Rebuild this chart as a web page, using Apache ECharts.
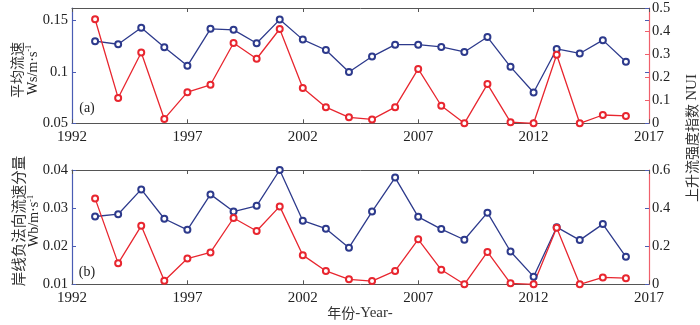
<!DOCTYPE html>
<html>
<head>
<meta charset="utf-8">
<script src="https://cdn.jsdelivr.net/npm/echarts@6/dist/echarts.min.js"></script>
<style>html,body{margin:0;padding:0;background:#fff}#c{width:700px;height:325px}</style>
</head>
<body>
<div id="c"></div>
<script>
// ---- data ----
const years = [1993,1994,1995,1996,1997,1998,1999,2000,2001,2002,2003,2004,2005,2006,2007,2008,2009,2010,2011,2012,2013,2014,2015,2016];
const meanFlow = [0.130,0.127,0.143,0.124,0.106,0.142,0.141,0.128,0.151,0.1315,0.1214,0.100,0.115,0.1266,0.1266,0.1244,0.1195,0.134,0.105,0.080,0.1224,0.118,0.131,0.110];
const normalFlow = [0.0278,0.0284,0.0349,0.0272,0.0243,0.0336,0.0291,0.0306,0.0400,0.0267,0.0246,0.0196,0.0291,0.0380,0.0277,0.0245,0.0217,0.0288,0.0186,0.0120,0.0250,0.0216,0.0258,0.0172];
const nui = [0.451,0.110,0.307,0.019,0.135,0.167,0.348,0.280,0.409,0.153,0.070,0.026,0.017,0.070,0.236,0.076,0.000,0.170,0.005,0.000,0.297,0.000,0.036,0.032];
const xTicks = [1992,1997,2002,2007,2012,2017];

const BLUE = '#2d3a8c', RED = '#e8262f';
const LBLUE = '#4a5cb4', LRED = '#f0606c', GRAY = '#555';
const SERIF = 'Liberation Serif';
const CJK = 'Noto Sans CJK SC';

function pairs(ys){ return years.map((y,i)=>[y, ys[i]]); }

function xAxes(grid){
  return [
    {gridIndex:grid, type:'value', min:xTicks[0], max:xTicks[xTicks.length-1], interval:5, position:'bottom',
     axisLine:{lineStyle:{color:GRAY,width:1}}, axisTick:{inside:true,length:4,lineStyle:{color:GRAY}},
     axisLabel:{color:'#222',fontFamily:SERIF,fontSize:15,margin:6,formatter:v=>String(Math.round(v))}, splitLine:{show:false}},
    {gridIndex:grid, type:'value', min:xTicks[0], max:xTicks[xTicks.length-1], interval:5, position:'top',
     axisLine:{lineStyle:{color:GRAY,width:1}}, axisTick:{inside:true,length:4,lineStyle:{color:GRAY}},
     axisLabel:{show:false}, splitLine:{show:false}}
  ];
}
function yAxes(grid, lmin, lmax, lint, rmin, rmax, rint, showMax){
  return [
    {gridIndex:grid, type:'value', position:'left', min:lmin, max:lmax, interval:lint,
     axisLine:{show:true,lineStyle:{color:LBLUE,width:1.2}}, axisTick:{show:true,inside:true,length:4,lineStyle:{color:LBLUE}},
     axisLabel:{color:'#222',fontFamily:SERIF,fontSize:14.5,margin:4,showMaxLabel:showMax}, splitLine:{show:false}},
    {gridIndex:grid, type:'value', position:'right', min:rmin, max:rmax, interval:rint,
     axisLine:{show:true,lineStyle:{color:LRED,width:1.2}}, axisTick:{show:true,inside:true,length:4,lineStyle:{color:LRED}},
     axisLabel:{color:'#222',fontFamily:SERIF,fontSize:14.5,margin:3}, splitLine:{show:false}},
    {gridIndex:grid, type:'value', position:'right', min:lmin, max:lmax, interval:lint,
     axisLine:{show:false}, axisTick:{show:true,inside:true,length:4,lineStyle:{color:LBLUE}},
     axisLabel:{show:false}, splitLine:{show:false}}
  ];
}
function line(name, data, xi, yi, color){
  return {name, type:'line', xAxisIndex:xi, yAxisIndex:yi, data:pairs(data),
    symbol:'emptyCircle', symbolSize:6, showSymbol:true,
    lineStyle:{color, width:1.3}, itemStyle:{color, borderColor:color, borderWidth:1.2},
    emphasis:{disabled:true}, animation:false};
}

const chart = echarts.init(document.getElementById('c'), null, {renderer:'canvas'});
chart.setOption({
  backgroundColor:'#fff',
  animation:false,
  grid:[
    {left:72, right:51, top:8, height:115.3},
    {left:72, right:51, top:170, height:114.3}
  ],
  xAxis:[...xAxes(0), ...xAxes(1)],
  yAxis:[...yAxes(0, 0.05, 0.1623, 0.05, 0, 0.5, 0.1, false), ...yAxes(1, 0.01, 0.04, 0.01, 0, 0.6, 0.2, true)],
  series:[
    line('平均流速', meanFlow, 0, 0, BLUE),
    line('NUI', nui, 0, 1, RED),
    line('岸线负法向流速分量', normalFlow, 2, 3, BLUE),
    line('NUI', nui, 2, 4, RED)
  ],
  graphic:[
    {type:'text', x:25, y:70, rotation:Math.PI/2, silent:true,
     style:{text:'{c|平均流速}\n{e|Ws/m·s}{s|-1}', align:'center', verticalAlign:'middle', fill:'#333',
       rich:{c:{fontFamily:CJK,fontSize:14,lineHeight:16,fill:'#333'},
             e:{fontFamily:SERIF,fontSize:14,lineHeight:16,fill:'#222'},
             s:{fontFamily:SERIF,fontSize:8,lineHeight:16,verticalAlign:'top',fill:'#222'}}}},
    {type:'text', x:26, y:221, rotation:Math.PI/2, silent:true,
     style:{text:'{c|岸线负法向流速分量}\n{e|Wb/m·s}{s|-1}', align:'center', verticalAlign:'middle', fill:'#333',
       rich:{c:{fontFamily:CJK,fontSize:14.5,lineHeight:17,fill:'#333'},
             e:{fontFamily:SERIF,fontSize:14,lineHeight:16,fill:'#222'},
             s:{fontFamily:SERIF,fontSize:8,lineHeight:16,verticalAlign:'top',fill:'#222'}}}},
    {type:'text', x:692, y:138, rotation:Math.PI/2, silent:true,
     style:{text:'{c|上升流强度指数 }{e|NUI}', align:'center', verticalAlign:'middle',
       rich:{c:{fontFamily:CJK,fontSize:14,fill:'#333'}, e:{fontFamily:SERIF,fontSize:15,fill:'#333'}}}},
    {type:'text', x:87, y:108, silent:true,
     style:{text:'(a)', align:'center', verticalAlign:'middle', fontFamily:SERIF, fontSize:14, fill:'#222'}},
    {type:'text', x:87, y:272, silent:true,
     style:{text:'(b)', align:'center', verticalAlign:'middle', fontFamily:SERIF, fontSize:14, fill:'#222'}},
    {type:'text', x:360, y:313, silent:true,
     style:{text:'{c|年份}{e|-Year-}', align:'center', verticalAlign:'middle',
       rich:{c:{fontFamily:CJK,fontSize:14,fill:'#333'}, e:{fontFamily:SERIF,fontSize:15,fill:'#333'}}}}
  ]
});
</script>
</body>
</html>
